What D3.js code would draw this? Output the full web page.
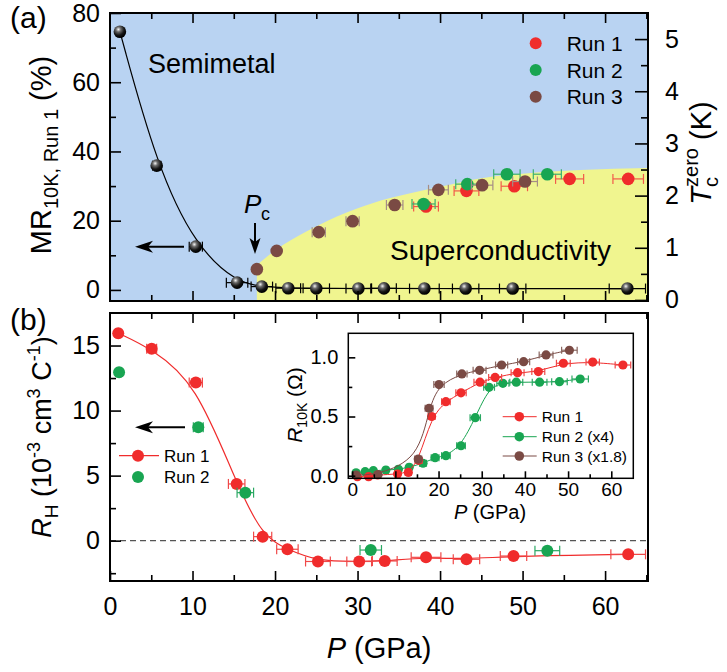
<!DOCTYPE html>
<html>
<head>
<meta charset="utf-8">
<script src="https://cdn.jsdelivr.net/npm/d3@7"></script>
<style>
  body { margin: 0; background: #fff; }
  text { font-family: "Liberation Sans", Arial, sans-serif; fill: #000; }
</style>
</head>
<body>
<div id="chart"></div>
<script>
// ---- panel (a): MR at 10 K, run 1 (black spheres, left axis)
const mrP = [1.2, 5.66, 10.4, 15.4, 18.4, 21.6, 25.0, 30.1, 33.2, 38.1, 43.1, 48.8, 62.7];
const mrVal = [74.6, 35.9, 12.5, 2.1, 0.96, 0.5, 0.45, 0.4, 0.45, 0.4, 0.4, 0.4, 0.4];
const mrErr = [0.3, 0.5, 0.8, 1.3, 1.3, 1.5, 1.6, 1.5, 1.5, 1.8, 1.6, 1.6, 2.2];

// Tc zero (right axis)
const tc1P = [38.3, 43.2, 49.0, 55.7, 62.8];
const tc1 = [1.79, 2.09, 2.18, 2.32, 2.32];
const tc1Err = [1.5, 1.5, 1.6, 1.7, 1.85];
const tc2P = [38.0, 43.3, 48.1, 53.0];
const tc2 = [1.84, 2.22, 2.41, 2.41];
const tc2Err = [1.4, 1.4, 1.6, 1.7];
const tc3P = [17.8, 20.2, 25.3, 29.4, 34.5, 39.8, 45.1, 50.3];
const tc3 = [0.59, 0.94, 1.30, 1.51, 1.82, 2.11, 2.20, 2.27];
const tc3Err = [0, 0, 0.8, 0.8, 1.0, 1.2, 1.3, 1.5];

// edge of the superconducting region
const scEdgeP = [17.8, 20, 23.8, 27.5, 31.9, 36, 40, 44.8, 50, 57, 65.2];
const scEdgeTc = [0.67, 0.95, 1.31, 1.6, 1.86, 2.03, 2.17, 2.33, 2.42, 2.49, 2.53];

// ---- panel (b): Hall coefficient
const rh1P = [1.0, 5.05, 10.4, 15.35, 18.5, 21.5, 25.2, 30.2, 33.3, 38.3, 43.2, 48.9, 62.8];
const rh1 = [15.95, 14.75, 12.15, 4.36, 0.31, -0.66, -1.6, -1.6, -1.56, -1.28, -1.43, -1.18, -1.05];
const rh1Err = [0.3, 0.6, 0.8, 1.0, 1.1, 1.3, 1.5, 1.5, 1.5, 1.8, 1.6, 1.6, 2.1];
const rh2P = [1.1, 10.7, 16.4, 31.6, 53.0];
const rh2 = [12.95, 8.72, 3.69, -0.72, -0.77];
const rh2Err = [0.3, 0.6, 1.0, 1.3, 1.5];

// ---- inset: R at 10 K
const r1P = [1.2, 3.8, 5.9, 10.5, 13.0, 15.4, 18.4, 21.7, 25.2, 29.6, 33.1, 38.3, 43.1, 48.9, 55.7, 62.7];
const r1 = [-0.008, -0.008, 0.006, 0.014, 0.028, 0.13, 0.50, 0.625, 0.70, 0.79, 0.83, 0.87, 0.88, 0.95, 0.96, 0.935];
const r1Err = [0.4, 0.5, 0.5, 0.6, 0.7, 0.8, 0.8, 1.0, 1.2, 1.4, 1.5, 1.5, 1.5, 1.6, 1.55, 1.8];
const r2P = [0.9, 3.0, 4.9, 7.8, 10.7, 13.2, 16.4, 19.2, 21.7, 25.2, 28.5, 31.7, 34.9, 38.0, 43.4, 48.0, 52.8];
const r2 = [0.025, 0.034, 0.042, 0.048, 0.054, 0.071, 0.105, 0.152, 0.169, 0.253, 0.49, 0.747, 0.78, 0.79, 0.79, 0.794, 0.817];
const r2Err = [0.4, 0.5, 0.5, 0.5, 0.5, 0.6, 0.8, 0.9, 1.0, 1.0, 1.2, 1.25, 1.4, 1.5, 1.7, 1.8, 1.9];
const r3P = [0.9, 6.0, 15.3, 17.8, 20.1, 25.4, 29.5, 34.6, 39.7, 44.9, 50.3];
const r3 = [0.005, 0.01, 0.14, 0.57, 0.77, 0.86, 0.89, 0.935, 0.963, 1.02, 1.06];
const r3Err = [0.4, 0.5, 0.8, 0.9, 1.2, 1.2, 1.5, 1.4, 1.4, 1.6, 1.8];

const red = "#f02c2c", green = "#19a552", brown = "#7a4a44";
const blueBg = "#b9d3f2", yellowBg = "#f0f58f";
const FONT = "Liberation Sans, Arial, sans-serif";

const svg = d3.select("#chart").append("svg")
  .attr("width", 727).attr("height", 672);

const defs = svg.append("defs");
const grad = defs.append("radialGradient").attr("id", "ball")
  .attr("cx", "38%").attr("cy", "32%").attr("r", "65%");
grad.append("stop").attr("offset", "0%").attr("stop-color", "#f4f4f4");
grad.append("stop").attr("offset", "30%").attr("stop-color", "#6a6a6a");
grad.append("stop").attr("offset", "70%").attr("stop-color", "#151515");
grad.append("stop").attr("offset", "100%").attr("stop-color", "#000");

const x = d3.scaleLinear().domain([0, 65.2]).range([110, 648]);
const ya = d3.scaleLinear().domain([-3.2, 80]).range([301, 13]);
const yt = d3.scaleLinear().domain([-0.02, 5.5]).range([301, 13]);
const yb = d3.scaleLinear().domain([-3.1, 17.5]).range([581, 313]);
const xi = d3.scaleLinear().domain([-0.9, 65.1]).range([348.3, 633.3]);
const yi = d3.scaleLinear().domain([-0.022, 1.203]).range([478.3, 333.3]);

const zip = (a, b, c) => a.map((d, i) => ({ p: d, v: b[i], e: c ? c[i] : 0 }));

// error bars + markers
const drawPoints = (g, data, xs, ys, opt) => {
  const eb = g.append("g").attr("stroke", opt.errColor || opt.color).attr("stroke-width", 1.2);
  data.filter(d => d.e > 0).forEach(d => {
    const x0 = xs(d.p - d.e), x1 = xs(d.p + d.e), yy = ys(d.v);
    eb.append("line").attr("x1", x0).attr("x2", x1).attr("y1", yy).attr("y2", yy);
    eb.append("line").attr("x1", x0).attr("x2", x0).attr("y1", yy - opt.cap).attr("y2", yy + opt.cap);
    eb.append("line").attr("x1", x1).attr("x2", x1).attr("y1", yy - opt.cap).attr("y2", yy + opt.cap);
  });
  g.append("g").selectAll("circle").data(data).join("circle")
    .attr("cx", d => xs(d.p)).attr("cy", d => ys(d.v)).attr("r", opt.r)
    .attr("fill", opt.fill || opt.color);
};

const axisStyle = (g) => {
  g.select(".domain").remove();
  g.selectAll(".tick line").attr("stroke", "#000").attr("stroke-width", 1.6);
};

const arrowLeft = (xTip, xTail, yy) => {
  svg.append("line").attr("x1", xTail).attr("x2", xTip + 8).attr("y1", yy).attr("y2", yy)
    .attr("stroke", "#000").attr("stroke-width", 2);
  svg.append("path")
    .attr("d", `M${xTip},${yy} L${xTip + 18},${yy - 6} L${xTip + 13},${yy} L${xTip + 18},${yy + 6} Z`)
    .attr("fill", "#000");
};

// ================= panel (a) =================
const ga = svg.append("g");
ga.append("rect").attr("x", 110).attr("y", 13).attr("width", 538).attr("height", 288).attr("fill", blueBg);

const scArea = d3.area()
  .x(d => x(d.p)).y0(301).y1(d => yt(d.v))
  .curve(d3.curveMonotoneX);
ga.append("path").datum(zip(scEdgeP, scEdgeTc)).attr("d", scArea).attr("fill", yellowBg);

ga.append("text").attr("x", 148).attr("y", 73).attr("font-size", 27).text("Semimetal");
ga.append("text").attr("x", 390).attr("y", 260).attr("font-size", 28).text("Superconductivity");

// MR line and spheres
const mrData = zip(mrP, mrVal, mrErr);
ga.append("path").datum(mrData)
  .attr("d", d3.line().x(d => x(d.p)).y(d => ya(d.v)).curve(d3.curveBasis))
  .attr("fill", "none").attr("stroke", "#000").attr("stroke-width", 1.2);
drawPoints(ga, mrData, x, ya, { color: "#000", fill: "url(#ball)", r: 6.3, cap: 5 });

drawPoints(ga, zip(tc1P, tc1, tc1Err), x, yt, { color: red, errColor: "#f25a4a", r: 6.3, cap: 5 });
drawPoints(ga, zip(tc2P, tc2, tc2Err), x, yt, { color: green, errColor: "#3bb070", r: 6.3, cap: 5 });
drawPoints(ga, zip(tc3P, tc3, tc3Err), x, yt, { color: brown, errColor: "#a58d86", r: 6.3, cap: 5 });

// axes (a)
ga.append("g").attr("transform", "translate(110,0)")
  .call(d3.axisLeft(ya).tickValues([0, 20, 40, 60, 80]).tickSize(-11).tickPadding(10))
  .call(axisStyle)
  .selectAll("text").attr("font-size", 25).attr("font-family", FONT);
ga.append("g").attr("transform", "translate(110,0)")
  .call(d3.axisLeft(ya).tickValues([10, 30, 50, 70]).tickSize(-6).tickFormat(""))
  .call(axisStyle);
ga.append("g").attr("transform", "translate(648,0)")
  .call(d3.axisRight(yt).tickValues([0, 1, 2, 3, 4, 5]).tickSize(-13).tickPadding(17).tickFormat(d3.format("d")))
  .call(axisStyle)
  .selectAll("text").attr("font-size", 25).attr("font-family", FONT);
ga.append("g").attr("transform", "translate(648,0)")
  .call(d3.axisRight(yt).tickValues([0.5, 1.5, 2.5, 3.5, 4.5]).tickSize(-7).tickFormat(""))
  .call(axisStyle);
[[301, d3.axisBottom], [13, d3.axisTop]].forEach(([yy, ax]) => {
  ga.append("g").attr("transform", `translate(0,${yy})`)
    .call(ax(x).tickValues([10, 20, 30, 40, 50, 60]).tickSize(-10).tickFormat(""))
    .call(axisStyle);
  ga.append("g").attr("transform", `translate(0,${yy})`)
    .call(ax(x).tickValues([5, 15, 25, 35, 45, 55, 65]).tickSize(-6).tickFormat(""))
    .call(axisStyle);
});
ga.append("rect").attr("x", 110).attr("y", 13).attr("width", 538).attr("height", 288)
  .attr("fill", "none").attr("stroke", "#000").attr("stroke-width", 2);

// legend (a)
[["Run 1", red], ["Run 2", green], ["Run 3", brown]].forEach(([name, c], i) => {
  const yy = 43.3 + i * 26.7;
  ga.append("circle").attr("cx", 535.7).attr("cy", yy).attr("r", 6).attr("fill", c);
  ga.append("text").attr("x", 566.7).attr("y", yy + 7.5).attr("font-size", 21).text(name);
});

// Pc annotation
ga.append("text").attr("x", 244).attr("y", 213).attr("font-size", 26).attr("font-style", "italic").text("P");
ga.append("text").attr("x", 261).attr("y", 220).attr("font-size", 18).text("c");
ga.append("line").attr("x1", 255).attr("x2", 255).attr("y1", 223).attr("y2", 245)
  .attr("stroke", "#000").attr("stroke-width", 2);
ga.append("path").attr("d", "M255,254 L249.5,238 L255,242 L260.5,238 Z").attr("fill", "#000");

arrowLeft(135, 184, 246.7);

svg.append("text").attr("x", 10).attr("y", 28).attr("font-size", 30).text("(a)");

// axis titles (a)
const mrLabel = svg.append("text").attr("transform", "translate(51,155) rotate(-90)")
  .attr("text-anchor", "middle").attr("font-size", 29);
mrLabel.append("tspan").text("MR");
mrLabel.append("tspan").attr("font-size", 20).attr("dy", 7).text("10K, Run 1");
mrLabel.append("tspan").attr("dy", -7).text(" (%)");

const tcLabel = svg.append("text").attr("transform", "translate(711,153) rotate(-90)")
  .attr("text-anchor", "middle").attr("font-size", 29);
tcLabel.append("tspan").attr("font-style", "italic").text("T");
tcLabel.append("tspan").attr("font-size", 20).attr("dy", 7).text("c");
tcLabel.append("tspan").attr("font-size", 20).attr("dx", -10).attr("dy", -20).text("zero");
tcLabel.append("tspan").attr("dy", 13).text(" (K)");

// ================= panel (b) =================
const gb = svg.append("g");
gb.append("line").attr("x1", 110).attr("x2", 648).attr("y1", yb(0)).attr("y2", yb(0))
  .attr("stroke", "#555").attr("stroke-width", 1.3).attr("stroke-dasharray", "6,4");

const rh1Data = zip(rh1P, rh1, rh1Err);
gb.append("path").datum(rh1Data)
  .attr("d", d3.line().x(d => x(d.p)).y(d => yb(d.v)).curve(d3.curveBasis))
  .attr("fill", "none").attr("stroke", red).attr("stroke-width", 1.2);
drawPoints(gb, rh1Data, x, yb, { color: red, errColor: "#f04848", r: 6, cap: 5 });
drawPoints(gb, zip(rh2P, rh2, rh2Err), x, yb, { color: green, errColor: "#2aa863", r: 6, cap: 5 });

gb.append("g").attr("transform", "translate(110,0)")
  .call(d3.axisLeft(yb).tickValues([0, 5, 10, 15]).tickSize(-11).tickPadding(10))
  .call(axisStyle)
  .selectAll("text").attr("font-size", 25).attr("font-family", FONT);
gb.append("g").attr("transform", "translate(110,0)")
  .call(d3.axisLeft(yb).tickValues([-2.5, 2.5, 7.5, 12.5]).tickSize(-6).tickFormat(""))
  .call(axisStyle);
gb.append("g").attr("transform", "translate(0,581)")
  .call(d3.axisBottom(x).tickValues([0, 10, 20, 30, 40, 50, 60]).tickSize(-10).tickPadding(16))
  .call(axisStyle)
  .selectAll("text").attr("font-size", 25).attr("font-family", FONT);
gb.append("g").attr("transform", "translate(0,581)")
  .call(d3.axisBottom(x).tickValues([5, 15, 25, 35, 45, 55, 65]).tickSize(-6).tickFormat(""))
  .call(axisStyle);
gb.append("g").attr("transform", "translate(0,313)")
  .call(d3.axisTop(x).tickValues([10, 20, 30, 40, 50, 60]).tickSize(-10).tickFormat(""))
  .call(axisStyle);
gb.append("g").attr("transform", "translate(0,313)")
  .call(d3.axisTop(x).tickValues([5, 15, 25, 35, 45, 55, 65]).tickSize(-6).tickFormat(""))
  .call(axisStyle);
gb.append("rect").attr("x", 110).attr("y", 313).attr("width", 538).attr("height", 268)
  .attr("fill", "none").attr("stroke", "#000").attr("stroke-width", 2);

// legend (b)
gb.append("line").attr("x1", 119).attr("x2", 159).attr("y1", 455.7).attr("y2", 455.7)
  .attr("stroke", red).attr("stroke-width", 1.2);
gb.append("circle").attr("cx", 138).attr("cy", 455.7).attr("r", 6).attr("fill", red);
gb.append("text").attr("x", 164).attr("y", 462).attr("font-size", 17).text("Run 1");
gb.append("circle").attr("cx", 138).attr("cy", 477).attr("r", 6).attr("fill", green);
gb.append("text").attr("x", 164).attr("y", 483).attr("font-size", 17).text("Run 2");

arrowLeft(135, 185, 427.3);

svg.append("text").attr("x", 10).attr("y", 330).attr("font-size", 30).text("(b)");

const rhLabel = svg.append("text").attr("transform", "translate(51,437) rotate(-90)")
  .attr("text-anchor", "middle").attr("font-size", 27);
rhLabel.append("tspan").attr("font-style", "italic").text("R");
rhLabel.append("tspan").attr("font-size", 19).attr("dy", 7).text("H");
rhLabel.append("tspan").attr("dy", -7).text(" (10");
rhLabel.append("tspan").attr("font-size", 18).attr("dy", -11).text("-3");
rhLabel.append("tspan").attr("dy", 11).text(" cm");
rhLabel.append("tspan").attr("font-size", 18).attr("dy", -11).text("3");
rhLabel.append("tspan").attr("dy", 11).text(" C");
rhLabel.append("tspan").attr("font-size", 18).attr("dy", -11).text("-1");
rhLabel.append("tspan").attr("dy", 11).text(")");

const pLabel = svg.append("text").attr("x", 379).attr("y", 658)
  .attr("text-anchor", "middle").attr("font-size", 29);
pLabel.append("tspan").attr("font-style", "italic").text("P");
pLabel.append("tspan").text(" (GPa)");

// ================= inset =================
const gi = svg.append("g");
gi.append("rect").attr("x", 348.3).attr("y", 333.3).attr("width", 285).attr("height", 145)
  .attr("fill", "#fff");

const insetLine = d3.line().x(d => xi(d.p)).y(d => yi(d.v)).curve(d3.curveBasis);
[[r2P, r2, r2Err, green, "#2aa863"], [r1P, r1, r1Err, red, "#f04848"], [r3P, r3, r3Err, brown, "#8a6660"]]
  .forEach(([p, v, e, c, ec]) => {
    const data = zip(p, v, e);
    gi.append("path").datum(data).attr("d", insetLine)
      .attr("fill", "none").attr("stroke", c).attr("stroke-width", 1);
    drawPoints(gi, data, xi, yi, { color: c, errColor: ec, r: 4.6, cap: 3.5 });
  });

gi.append("g").attr("transform", "translate(348.3,0)")
  .call(d3.axisLeft(yi).tickValues([0, 0.5, 1.0]).tickSize(-7).tickPadding(10).tickFormat(d3.format(".1f")))
  .call(axisStyle)
  .selectAll("text").attr("font-size", 20).attr("font-family", FONT);
gi.append("g").attr("transform", "translate(348.3,0)")
  .call(d3.axisLeft(yi).tickValues([0.25, 0.75]).tickSize(-4).tickFormat(""))
  .call(axisStyle);
gi.append("g").attr("transform", "translate(0,478.3)")
  .call(d3.axisBottom(xi).tickValues([0, 10, 20, 30, 40, 50, 60]).tickSize(-7).tickPadding(4))
  .call(axisStyle)
  .selectAll("text").attr("font-size", 19).attr("font-family", FONT);
gi.append("g").attr("transform", "translate(0,478.3)")
  .call(d3.axisBottom(xi).tickValues([5, 15, 25, 35, 45, 55]).tickSize(-4).tickFormat(""))
  .call(axisStyle);
gi.append("rect").attr("x", 348.3).attr("y", 333.3).attr("width", 285).attr("height", 145)
  .attr("fill", "none").attr("stroke", "#000").attr("stroke-width", 1.5);

[["Run 1", red], ["Run 2 (x4)", green], ["Run 3 (x1.8)", brown]].forEach(([name, c], i) => {
  const yy = [416.7, 436.7, 456][i];
  gi.append("line").attr("x1", 502.7).attr("x2", 536.7).attr("y1", yy).attr("y2", yy)
    .attr("stroke", c).attr("stroke-width", 1);
  gi.append("circle").attr("cx", 519.3).attr("cy", yy).attr("r", 4.8).attr("fill", c);
  gi.append("text").attr("x", 541.7).attr("y", yy + 5.5).attr("font-size", 15.5).text(name);
});

const riLabel = svg.append("text").attr("transform", "translate(302,405) rotate(-90)")
  .attr("text-anchor", "middle").attr("font-size", 21);
riLabel.append("tspan").attr("font-style", "italic").text("R");
riLabel.append("tspan").attr("font-size", 14).attr("dy", 5).text("10K");
riLabel.append("tspan").attr("dy", -5).text(" (Ω)");

const piLabel = svg.append("text").attr("x", 490).attr("y", 519)
  .attr("text-anchor", "middle").attr("font-size", 20);
piLabel.append("tspan").attr("font-style", "italic").text("P");
piLabel.append("tspan").text(" (GPa)");
</script>
</body>
</html>
